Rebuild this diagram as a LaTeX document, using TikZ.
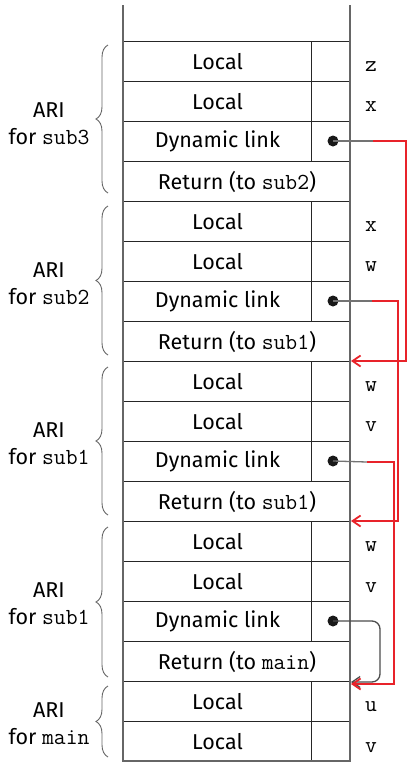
\documentclass[tikz,border=0pt]{standalone}
\usepackage{fontspec}
\setmainfont{Fira Sans}
\usetikzlibrary{decorations.pathreplacing,arrows.meta}
\definecolor{linkred}{HTML}{E8232A}
\begin{document}
\begin{tikzpicture}[x=1pt,y=-1pt,
  base/.style={draw=black!85, line width=1pt, minimum height=40pt, inner sep=0pt, anchor=north west, font=\fontsize{21.5}{24}\selectfont},
  lbl/.style={base, minimum width=188pt},
  val/.style={base, minimum width=39pt},
  ret/.style={base, minimum width=227pt},
  dot/.style={circle, fill=black!90, inner sep=0pt, minimum size=11pt},
  var/.style={font=\ttfamily\fontsize{23}{24}\selectfont, inner sep=0pt},
  ari/.style={align=center, font=\fontsize{21.5}{27}\selectfont, inner sep=0pt},
  brc/.style={draw=black!60, line width=0.9pt, decorate, decoration={brace, amplitude=12pt}},
  gline/.style={draw=black!55, line width=1.3pt},
  rline/.style={draw=linkred, line width=1.8pt, -{Straight Barb[length=8pt,width=11pt]}},
  frame/.style={draw=black!60, line width=1.4pt}]
\useasboundingbox (0,0) rectangle (412,772);
\newcommand{\tto}[1]{{\ttfamily\fontsize{23}{24}\selectfont #1}}
% ARI sub3
\node[lbl] (r1) at (123,41) {Local};        \node[val] (v1) at (311,41) {};
\node[lbl] (r2) at (123,81) {Local};        \node[val] (v2) at (311,81) {};
\node[lbl] (r3) at (123,121) {Dynamic link};\node[val] (v3) at (311,121) {};
\node[ret] (r4) at (123,161) {Return (to \tto{sub2})};
% ARI sub2
\node[lbl] (r5) at (123,201) {Local};       \node[val] (v5) at (311,201) {};
\node[lbl] (r6) at (123,241) {Local};       \node[val] (v6) at (311,241) {};
\node[lbl] (r7) at (123,281) {Dynamic link};\node[val] (v7) at (311,281) {};
\node[ret] (r8) at (123,321) {Return (to \tto{sub1})};
% ARI sub1
\node[lbl] (r9) at (123,361) {Local};       \node[val] (v9) at (311,361) {};
\node[lbl] (r10) at (123,401) {Local};      \node[val] (v10) at (311,401) {};
\node[lbl] (r11) at (123,441) {Dynamic link};\node[val] (v11) at (311,441) {};
\node[ret] (r12) at (123,481) {Return (to \tto{sub1})};
% ARI sub1 (second)
\node[lbl] (r13) at (123,521) {Local};      \node[val] (v13) at (311,521) {};
\node[lbl] (r14) at (123,561) {Local};      \node[val] (v14) at (311,561) {};
\node[lbl] (r15) at (123,601) {Dynamic link};\node[val] (v15) at (311,601) {};
\node[ret] (r16) at (123,641) {Return (to \tto{main})};
% ARI main
\node[lbl] (r17) at (123,681) {Local};      \node[val] (v17) at (311,681) {};
\node[lbl] (r18) at (123,721) {Local};      \node[val] (v18) at (311,721) {};
% outer frame
\coordinate (tl) at (123,5); \coordinate (tr) at (350,5);
\coordinate (bl) at (123,761); \coordinate (br) at (350,761);
\draw[frame] (tl) -- (bl) -- (br) -- (tr);
% variable names
\node[var] (n1) at (371,67) {z};
\node[var] (n2) at (371,107) {x};
\node[var] (n5) at (371,227) {x};
\node[var] (n6) at (371,267) {w};
\node[var] (n9) at (371,387) {w};
\node[var] (n10) at (371,427) {v};
\node[var] (n13) at (371,547) {w};
\node[var] (n14) at (371,588) {v};
\node[var] (n17) at (371,707) {u};
\node[var] (n18) at (371,748) {v};
% braces
\coordinate (b3s) at (108,193); \coordinate (b3e) at (108,45);
\coordinate (b2s) at (108,355); \coordinate (b2e) at (108,206);
\coordinate (b1s) at (108,515); \coordinate (b1e) at (108,367);
\coordinate (b0s) at (108,677); \coordinate (b0e) at (108,527);
\coordinate (bms) at (108,757); \coordinate (bme) at (108,686);
\draw[brc] (b3s) -- (b3e);
\draw[brc] (b2s) -- (b2e);
\draw[brc] (b1s) -- (b1e);
\draw[brc] (b0s) -- (b0e);
\draw[brc] (bms) -- (bme);
\node[ari] (a3) at (49,124) {ARI\\for \tto{sub3}};
\node[ari] (a2) at (49,284) {ARI\\for \tto{sub2}};
\node[ari] (a1) at (49,444) {ARI\\for \tto{sub1}};
\node[ari] (a0) at (49,604) {ARI\\for \tto{sub1}};
\node[ari] (am) at (49,724) {ARI\\for \tto{main}};
% dynamic links
\node[dot] (d3) at (333,141) {};
\node[dot] (d7) at (333,301) {};
\node[dot] (d11) at (333,461) {};
\node[dot] (d15) at (333,621) {};
\coordinate (e3) at (373,141);
\coordinate (e7) at (372,301);
\coordinate (e11) at (367,462);
\coordinate (t3) at (351,361);
\coordinate (t7) at (351,521);
\coordinate (t11) at (351,684);
\coordinate (t15) at (351,682);
\draw[gline] (d3.center) -- (e3);
\draw[gline] (d7.center) -- (e7);
\draw[gline] (d11.center) -- (e11);
\draw[gline, draw=black!70, rounded corners=8pt, -{Straight Barb[length=8pt,width=11pt]}] (d15.center) -- ++(47,0) |- (t15);
\draw[rline] (e3) -- ++(33,0) |- (t3);
\draw[rline] (e7) -- ++(26,0) |- (t7);
\draw[rline] (e11) -- ++(27,0) |- (t11);
\end{tikzpicture}
\end{document}
